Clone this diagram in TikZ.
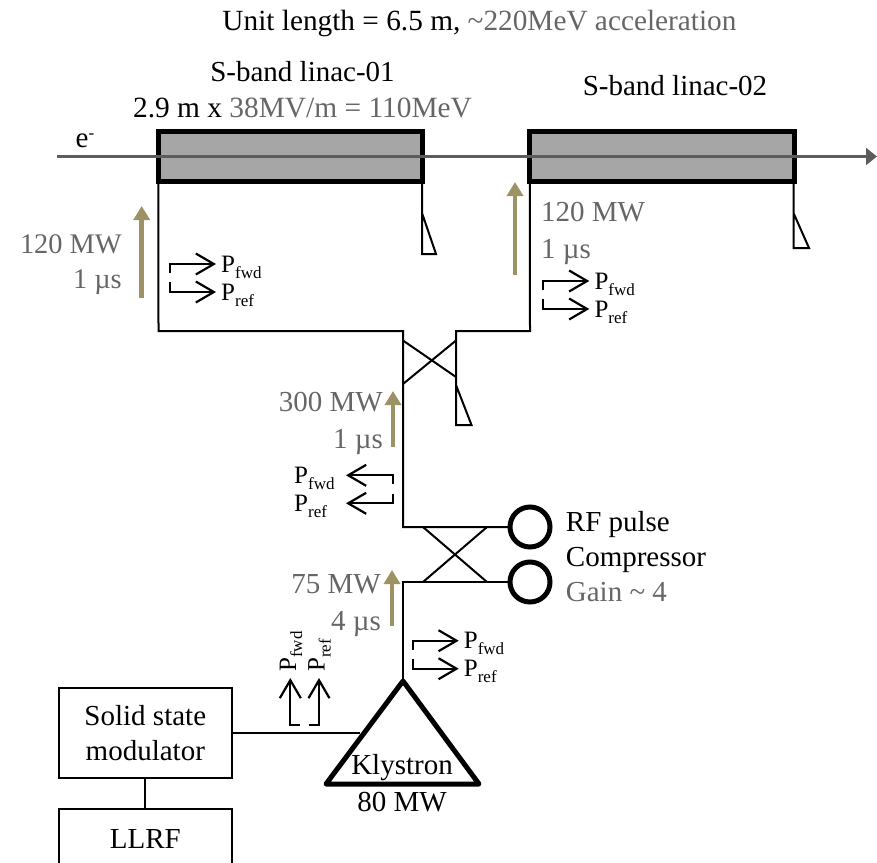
\documentclass[tikz,border=0pt]{standalone}
\usepackage{fontspec}
\setmainfont{Liberation Serif}
\usetikzlibrary{%
    arrows.meta,
    positioning
}
\definecolor{power}{HTML}{9C9263}
\definecolor{muted}{HTML}{666666}
\definecolor{steel}{HTML}{A6A6A6}
\newcommand{\Psub}[1]{P\raisebox{-6pt}{\fontsize{17}{17}\selectfont #1}}
\tikzset{guide/.style = {line width=2pt}}
\tikzset{linac/.style = {draw,line width=5pt,fill=steel,outer sep=0pt,minimum width=264.5pt,minimum height=50.5pt}}
\tikzset{beam/.style = {draw=muted!90!black,line width=2.2pt,-{Triangle[length=11pt,width=17pt]}}}
\tikzset{flow/.style = {draw=power,line width=4.5pt,-{Triangle[length=14pt,width=16pt]}}}
\tikzset{sense/.style = {line width=2pt,-{Straight Barb[length=18pt,width=21pt,line width=2.2pt]}}}
\tikzset{thick edge/.style = {line width=5pt,line join=round}}
\tikzset{cavity/.style = {draw,circle,line width=5pt,minimum size=40pt,outer sep=0pt}}
\tikzset{unit/.style = {draw,line width=1.8pt,outer sep=0pt,minimum width=172.7pt,align=center}}
\tikzset{txt/.style = {inner sep=0pt,align=center}}
\tikzset{plabel/.style = {inner sep=0pt,anchor=base west,font=\fontsize{25}{25}\selectfont}}

\begin{document}
\begin{tikzpicture}[x=1pt,y=-1pt,font=\fontsize{29}{35}\selectfont]
    \useasboundingbox (0,0) rectangle (877,862);

    % header
    \node[txt,font=\fontsize{29.3}{35}\selectfont] (title) at (479.5,23) {Unit length = 6.5 m, \textcolor{muted}{\char"007E 220MeV acceleration}};
    \node[txt] (namea) at (302.5,72) {S-band linac-01};
    \node[txt,font=\fontsize{29.4}{35}\selectfont] (gradient) at (302.5,108) {2.9 m x \textcolor{muted}{38MV/m = 110MeV}};
    \node[txt] (nameb) at (675,86) {S-band linac-02};

    % linacs and beam
    \node[linac] (linaca) at (290.7,156.7) {};
    \node[linac] (linacb) at (662,156.7) {};
    \coordinate (gun) at (57,156.5);
    \coordinate (dump) at (877,156.5);
    \draw[beam] (gun) -- (dump);
    \node[txt] (electron) at (85,141) {e\raisebox{9pt}{\fontsize{17}{17}\selectfont -}};

    % waveguide
    \coordinate (cornera) at (158.5,331);
    \coordinate (cornerb) at (530,331);
    \coordinate (hybtl) at (403,331);
    \coordinate (hybtr) at (456,331);
    \coordinate (hybbr) at (456,385);
    \coordinate (pcl) at (403,527);
    \coordinate (pcb) at (403,582);
    \node[cavity] (cavup) at (530,527) {};
    \node[cavity] (cavdn) at (530,582) {};
    \coordinate (apex) at (403,681);
    \coordinate (basel) at (326,784);
    \coordinate (baser) at (479,784);
    \coordinate (feed) at (360,733);

    \draw[guide] (linaca.south west) -- (cornera) -- (hybtl) -- (pcl) -- (cavup.west);
    \draw[guide] (linacb.south west) -- (cornerb) -- (hybtr) -- (hybbr);
    \draw[guide] (cavdn.west) -- (pcb) -- (apex);
    \draw[thick edge] (apex) -- (basel) -- (baser) -- cycle;

    % couplers
    \foreach \Left/\Top/\Right/\Low in {403/340.5/456/377, 403/384/456/340.5, 423/527/487/582, 423/582/487/527}
        \draw[guide] (\Left,\Top) -- (\Right,\Low);

    % loads
    \foreach \X/\Start/\Apex/\Bottom/\W in {422/184/213/254/14, 793.5/184/213/248/15.5, 456/385/385/425/15.5}
        \draw[guide] (\X,\Start) -- (\X,\Bottom) -- ++(\W,0) -- (\X,\Apex);

    % power arrows
    \foreach \X/\From/\To in {141.7/298/206, 515/275/182, 393/447/391, 392/626/570}
        \draw[flow] (\X,\From) -- (\X,\To);
    \node[txt,align=right,anchor=east,text=muted,font=\fontsize{28.4}{35}\selectfont] (powa) at (122,265) {120 MW\\1 µs};
    \node[txt,align=left,anchor=west,text=muted] (powb) at (541,233) {120 MW\\[2pt]1 µs};
    \node[txt,align=right,anchor=east,text=muted] (powc) at (383,423) {300 MW\\[2pt]1 µs};
    \node[txt,align=right,anchor=east,text=muted] (powd) at (381,606) {75 MW\\[2pt]4 µs};

    % monitors
    \foreach \Id/\X/\Y in {a/170/264, b/543.3/281, c/412.7/640.7} {
        \node[plabel] (fwd\Id) at (\X+51,\Y+8) {\Psub{fwd}};
        \node[plabel] (ref\Id) at (\X+51,\Y+36) {\Psub{ref}};
        \coordinate (stubf\Id) at (\X,\Y+9);
        \coordinate (stubr\Id) at (\X,\Y+18);
        \draw[sense] (stubf\Id) |- ([shift={(-5,-8)}]fwd\Id.base west);
        \draw[sense] (stubr\Id) |- ([shift={(-5,-8)}]ref\Id.base west);
    }
    \node[plabel] (fwdd) at (294,483) {\Psub{fwd}};
    \node[plabel] (refd) at (294,511) {\Psub{ref}};
    \coordinate (stubfd) at (392.7,484);
    \coordinate (stubrd) at (392.7,494);
    \coordinate (tipfd) at (346,475.3);
    \coordinate (tiprd) at (346,503.3);
    \draw[sense] (stubfd) |- (tipfd);
    \draw[sense] (stubrd) |- (tiprd);

    \node[plabel,rotate=90] (fwde) at (296,672) {\Psub{fwd}};
    \node[plabel,rotate=90] (refe) at (324.5,672) {\Psub{ref}};
    \coordinate (stubfe) at (300,725);
    \coordinate (stubre) at (309,725);
    \coordinate (tipfe) at (290.3,678);
    \coordinate (tipre) at (319,678);
    \draw[sense] (stubfe) -| (tipfe);
    \draw[sense] (stubre) -| (tipre);

    % compressor
    \node[txt,align=left,anchor=west] (compressor) at (565.7,557) {RF pulse\\Compressor\\\textcolor{muted}{Gain \char"007E{} 4}};

    % klystron and control
    \node[txt] (klystron) at (402,768) {Klystron};
    \node[txt] (klypower) at (402,802) {80 MW};
    \node[unit,minimum height=90.3pt] (modulator) at (145.3,733) {Solid state\\modulator};
    \node[unit,minimum height=60pt] (llrf) at (145.3,839) {LLRF};
    \draw[guide] (modulator.east |- feed) -- (feed);
    \draw[guide] (modulator) -- (llrf);
\end{tikzpicture}
\end{document}
